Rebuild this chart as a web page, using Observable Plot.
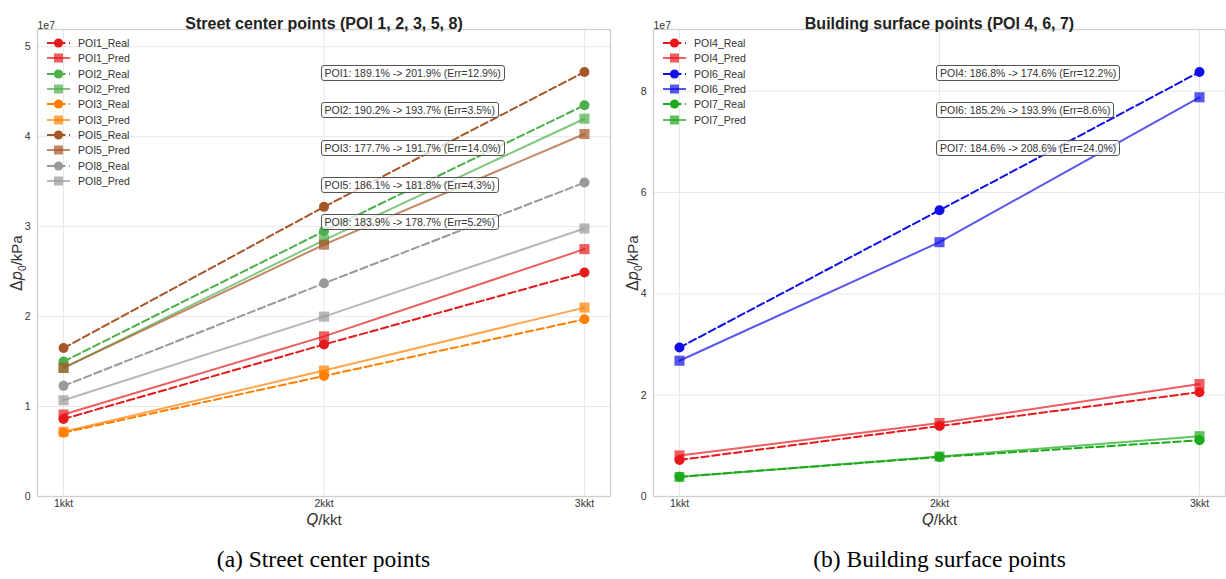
<!DOCTYPE html>
<html>
<head>
<meta charset="utf-8">
<script src="https://cdn.jsdelivr.net/npm/d3@7"></script>
<script src="https://cdn.jsdelivr.net/npm/@observablehq/plot@0.6"></script>
<style>
  body { margin: 0; background: #fff; font-family: "Liberation Sans", Arial, sans-serif; }
  #row { display: flex; width: 1226px; }
  .panel { position: relative; width: 613px; height: 535px; flex: none; }
  .legend { position: absolute; font-size: 10.5px; color: #333; }
  .lg-row { display: flex; align-items: center; height: 15.35px; }
  .lg-row span { margin-left: 7px; }
  .ann { position: absolute; font-size: 10.5px; color: #333; border: 1px solid #555; border-radius: 3px;
         background: rgba(255,255,255,0.75); padding: 0 3px; line-height: 14px; white-space: nowrap;
         transform: translateY(-50%); }
  #caps { display: flex; width: 1226px; height: 44px; font-family: "Liberation Serif", "Times New Roman", serif;
          font-size: 23.5px; color: #000; }
  #caps div { text-align: center; line-height: 48px; width: 573px; flex: none; }
</style>
</head>
<body>
<div id="row"></div>
<div id="caps"></div>
<script>
// ---- data (pressure values in units of 1e7 kPa) ----
const qValues = [1, 2, 3];
const qLabels = ["1kkt", "2kkt", "3kkt"];

const poi1Real = [0.862, 1.69, 2.49];
const poi1Pred = [0.911, 1.78, 2.75];
const poi2Real = [1.50, 2.95, 4.35];
const poi2Pred = [1.43, 2.85, 4.20];
const poi3Real = [0.71, 1.34, 1.97];
const poi3Pred = [0.72, 1.40, 2.10];
const poi5Real = [1.65, 3.22, 4.72];
const poi5Pred = [1.43, 2.80, 4.03];
const poi8Real = [1.23, 2.37, 3.49];
const poi8Pred = [1.07, 2.00, 2.98];

const poi4Real = [0.72, 1.39, 2.06];
const poi4Pred = [0.81, 1.45, 2.22];
const poi6Real = [2.94, 5.65, 8.38];
const poi6Pred = [2.68, 5.02, 7.88];
const poi7Real = [0.39, 0.78, 1.11];
const poi7Pred = [0.385, 0.79, 1.19];

const leftYTicks = [0, 1, 2, 3, 4, 5];
const rightYTicks = [0, 2, 4, 6, 8];

const leftNotes = [
  "POI1: 189.1% -> 201.9% (Err=12.9%)",
  "POI2: 190.2% -> 193.7% (Err=3.5%)",
  "POI3: 177.7% -> 191.7% (Err=14.0%)",
  "POI5: 186.1% -> 181.8% (Err=4.3%)",
  "POI8: 183.9% -> 178.7% (Err=5.2%)"
];
const rightNotes = [
  "POI4: 186.8% -> 174.6% (Err=12.2%)",
  "POI6: 185.2% -> 193.9% (Err=8.6%)",
  "POI7: 184.6% -> 208.6% (Err=24.0%)"
];

const leftSeries = [
  {name: "POI1_Real", values: poi1Real, color: "#e41a1c", real: true},
  {name: "POI1_Pred", values: poi1Pred, color: "#e41a1c", real: false},
  {name: "POI2_Real", values: poi2Real, color: "#4daf4a", real: true},
  {name: "POI2_Pred", values: poi2Pred, color: "#4daf4a", real: false},
  {name: "POI3_Real", values: poi3Real, color: "#ff7f00", real: true},
  {name: "POI3_Pred", values: poi3Pred, color: "#ff7f00", real: false},
  {name: "POI5_Real", values: poi5Real, color: "#a65628", real: true},
  {name: "POI5_Pred", values: poi5Pred, color: "#a65628", real: false},
  {name: "POI8_Real", values: poi8Real, color: "#999999", real: true},
  {name: "POI8_Pred", values: poi8Pred, color: "#999999", real: false}
];
const rightSeries = [
  {name: "POI4_Real", values: poi4Real, color: "#e8171b", real: true},
  {name: "POI4_Pred", values: poi4Pred, color: "#e8171b", real: false},
  {name: "POI6_Real", values: poi6Real, color: "#1010e6", real: true},
  {name: "POI6_Pred", values: poi6Pred, color: "#1010e6", real: false},
  {name: "POI7_Real", values: poi7Real, color: "#1caa1c", real: true},
  {name: "POI7_Pred", values: poi7Pred, color: "#1caa1c", real: false}
];

const DASH = "7.5,3.5";

function makePanel(cfg) {
  const panel = document.createElement("div");
  panel.className = "panel";
  const yMax = d3.max(cfg.series.flatMap(s => s.values)) * 1.1;

  const marks = [
    Plot.gridX(qValues, {stroke: "#e8e8e8", strokeOpacity: 1, strokeWidth: 1}),
    Plot.gridY(cfg.yTicks, {stroke: "#e8e8e8", strokeOpacity: 1, strokeWidth: 1}),
    Plot.frame({stroke: "#cfcfcf", strokeWidth: 1.3}),
    Plot.axisX(qValues, {tickSize: 0, tickPadding: 3, label: null, fontSize: 10.5, fill: "#333",
      tickFormat: d => qLabels[qValues.indexOf(d)]}),
    Plot.axisY(cfg.yTicks, {tickSize: 0, tickPadding: 7, label: null, fontSize: 10.5, fill: "#333",
      tickFormat: d3.format("d")})
  ];
  for (const s of cfg.series) {
    const pts = qValues.map((q, i) => ({q, v: s.values[i]}));
    marks.push(Plot.line(pts, {x: "q", y: "v", stroke: s.color, strokeWidth: 2,
      strokeOpacity: s.real ? 1 : 0.7, strokeDasharray: s.real ? DASH : null}));
    marks.push(Plot.dot(pts, {x: "q", y: "v", fill: s.color, stroke: "none",
      fillOpacity: s.real ? 1 : 0.7, symbol: s.real ? "circle" : "square", r: s.real ? 5 : 5.7}));
  }
  marks.push(
    Plot.text([cfg.title], {text: d => d, frameAnchor: "top", dy: -12, fontSize: 16, fontWeight: "bold", fill: "#222"}),
    Plot.text(["1e7"], {text: d => d, frameAnchor: "top-left", textAnchor: "start", dy: -8, fontSize: 10.5, fill: "#333"}),
    Plot.text(["Q/kkt"], {text: d => d, frameAnchor: "bottom", dy: 28, fontSize: 15, fill: "#333"}),
    Plot.text(["Δp0/kPa"], {text: d => d, frameAnchor: "left", textAnchor: "middle", rotate: -90, dx: -20, fontSize: 15, fill: "#333"})
  );

  const plot = Plot.plot({
    width: 613, height: 535,
    marginLeft: cfg.marginLeft, marginRight: cfg.marginRight, marginTop: 29, marginBottom: 39,
    x: {domain: [0.9, 3.1]},
    y: {domain: [0, yMax]},
    style: {fontFamily: '"Liberation Sans", Arial, sans-serif', background: "white", overflow: "visible"},
    marks
  });

  // math-style axis labels
  d3.select(plot).selectAll("text").each(function () {
    const t = d3.select(this);
    if (this.textContent === "Q/kkt") {
      t.text(null);
      t.append("tspan").attr("font-style", "italic").attr("font-family", "DejaVu Sans").text("Q");
      t.append("tspan").text("/kkt");
    } else if (this.textContent === "Δp0/kPa") {
      t.text(null);
      t.append("tspan").attr("font-family", "DejaVu Sans").text("Δ");
      t.append("tspan").attr("font-style", "italic").attr("font-family", "DejaVu Sans").text("p");
      t.append("tspan").attr("font-size", "10px").attr("dy", "4").text("0");
      t.append("tspan").attr("dy", "-4").text("/kPa");
    }
  });
  panel.appendChild(plot);

  // legend
  const lg = document.createElement("div");
  lg.className = "legend";
  lg.style.left = (cfg.marginLeft + 8) + "px";
  lg.style.top = "35.3px";
  for (const s of cfg.series) {
    const row = document.createElement("div");
    row.className = "lg-row";
    const op = s.real ? 1 : 0.7;
    const marker = s.real
      ? `<circle cx="13.5" cy="6" r="4.6" fill="${s.color}"/>`
      : `<rect x="9" y="1.5" width="9" height="9" fill="${s.color}" fill-opacity="0.7"/>`;
    row.innerHTML = `<svg width="26" height="12"><line x1="2" x2="25" y1="6" y2="6" stroke="${s.color}" stroke-width="2" stroke-opacity="${op}" ${s.real ? `stroke-dasharray="${DASH}"` : ""}/>${marker}</svg><span>${s.name}</span>`;
    lg.appendChild(row);
  }
  panel.appendChild(lg);

  // annotation boxes positioned through the plot scales
  const sx = plot.scale("x"), sy = plot.scale("y");
  cfg.notes.forEach((txt, i) => {
    const a = document.createElement("div");
    a.className = "ann";
    a.textContent = txt;
    a.style.left = (sx.apply(2) - 3) + "px";
    a.style.top = sy.apply(yMax * (0.906 - 0.08 * i)) + "px";
    panel.appendChild(a);
  });
  return panel;
}

const row = document.getElementById("row");
row.appendChild(makePanel({title: "Street center points (POI 1, 2, 3, 5, 8)", series: leftSeries,
  yTicks: leftYTicks, notes: leftNotes, marginLeft: 37, marginRight: 3}));
row.appendChild(makePanel({title: "Building surface points (POI 4, 6, 7)", series: rightSeries,
  yTicks: rightYTicks, notes: rightNotes, marginLeft: 40, marginRight: 1}));

const caps = document.getElementById("caps");
[["(a) Street center points", 37], ["(b) Building surface points", 43]].forEach(([t, ml]) => {
  const d = document.createElement("div");
  d.textContent = t;
  d.style.marginLeft = ml + "px";
  caps.appendChild(d);
});
</script>
</body>
</html>
